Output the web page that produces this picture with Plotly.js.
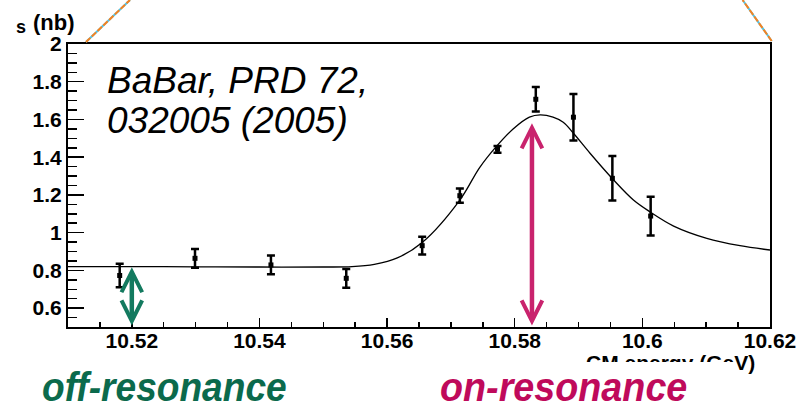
<!DOCTYPE html>
<html>
<head>
<meta charset="utf-8">
<script src="https://cdn.plot.ly/plotly-3.0.1.min.js"></script>
<style>
  html, body { margin: 0; padding: 0; background: #fff; }
  #wrap { position: relative; width: 800px; height: 412px; overflow: hidden; }
  #chart { position: absolute; left: 0; top: 0; width: 800px; height: 412px; }
  #cover { position: absolute; left: 0; top: 362px; width: 735px; height: 50px; background: #fff; z-index: 5; }
  .tag { position: absolute; z-index: 6; font-family: "Liberation Sans", Arial, sans-serif;
         font-weight: bold; font-style: italic; font-size: 41px; line-height: 1; white-space: nowrap;
         transform-origin: left top; }
  #offtag { left: 42px; top: 367px; color: #0b6a4c; transform: scaleX(0.905); }
  #ontag  { left: 440px; top: 367px; color: #bf0a5b; transform: scaleX(0.92); }
</style>
</head>
<body>
<div id="wrap">
  <div id="chart"></div>
  <div id="cover"></div>
  <div id="offtag" class="tag">off-resonance</div>
  <div id="ontag" class="tag">on-resonance</div>
</div>
<script>
// Measured cross sections vs. centre-of-mass energy
const energy = [10.5181, 10.5299, 10.5418, 10.5536, 10.5655, 10.5714, 10.5773, 10.5833, 10.5892, 10.5953, 10.6013];
const sigma  = [0.773, 0.864, 0.829, 0.758, 0.931, 1.196, 1.442, 1.707, 1.612, 1.288, 1.088];
const sigmaErr = [0.062, 0.050, 0.050, 0.050, 0.047, 0.038, 0.018, 0.065, 0.123, 0.118, 0.103];

// Fitted line shape (continuum + resonance)
const fitE = [10.510, 10.520, 10.530, 10.540, 10.550, 10.5545, 10.558, 10.5616, 10.5655, 10.5714,
              10.5745, 10.5771, 10.5797, 10.5823, 10.5840, 10.5860, 10.5876, 10.5892, 10.5918,
              10.5955, 10.5986, 10.6013, 10.6049, 10.6101, 10.6153, 10.6200];
const fitS = [0.820, 0.820, 0.819, 0.818, 0.818, 0.820, 0.832, 0.866, 0.948, 1.173,
              1.345, 1.456, 1.548, 1.612, 1.624, 1.612, 1.585, 1.527, 1.421,
              1.279, 1.173, 1.108, 1.035, 0.970, 0.931, 0.908];

// Axis tick positions and labels
const xTicks = [10.52, 10.54, 10.56, 10.58, 10.60, 10.62];
const xLabels = ['10.52', '10.54', '10.56', '10.58', '10.6', '10.62'];
const yTicks = [0.6, 0.8, 1.0, 1.2, 1.4, 1.6, 1.8, 2.0];
const yLabels = ['0.6', '0.8', '1', '1.2', '1.4', '1.6', '1.8', '2'];

// Off- and on-resonance running points, marked with double arrows
const arrowE   = [10.520, 10.5827];
const arrowTop = [0.817, 1.580];
const arrowLow = 0.5;
const arrowColors = ['#137a5f', '#c9236d'];

const FONT = 'Liberation Sans, Arial, Helvetica, sans-serif';
const bold = s => '<b>' + s + '</b>';

const traces = [
  {
    x: fitE, y: fitS, type: 'scatter', mode: 'lines',
    line: { color: '#000', width: 1.3, shape: 'spline', smoothing: 1 },
    hoverinfo: 'skip'
  },
  {
    x: energy, y: sigma, type: 'scatter', mode: 'markers',
    marker: { symbol: 'square', size: 5, color: '#000' },
    error_y: { type: 'data', array: sigmaErr, visible: true, color: '#000', thickness: 2.5, width: 4 }
  }
];

const annotations = [
  { xref: 'paper', yref: 'paper', x: 0.0527, y: 0.95, xanchor: 'left', yanchor: 'top',
    text: 'BaBar, PRD 72,', showarrow: false,
    font: { family: FONT, size: 37, style: 'italic', color: '#000' } },
  { xref: 'paper', yref: 'paper', x: 0.0527, y: 0.808, xanchor: 'left', yanchor: 'top',
    text: '032005 (2005)', showarrow: false,
    font: { family: FONT, size: 37, style: 'italic', color: '#000' } },
  { xref: 'paper', yref: 'paper', x: -0.0563, y: 1.019, xanchor: 'right', yanchor: 'bottom',
    text: bold('s'), showarrow: false,
    font: { family: FONT, size: 18, color: '#000' } },
  { xref: 'paper', yref: 'paper', x: -0.0527, y: 1.026, xanchor: 'left', yanchor: 'bottom',
    text: bold('(nb)'), showarrow: false,
    font: { family: FONT, size: 22, color: '#000' } },
  { xref: 'paper', yref: 'paper', x: 0.9815, y: -0.076, xanchor: 'right', yanchor: 'top',
    text: bold('CM energy (GeV)'), showarrow: false,
    font: { family: FONT, size: 21, color: '#000' } }
];

arrowE.forEach((e, i) => {
  annotations.push({
    x: e, y: arrowTop[i], xref: 'x', yref: 'y',
    ax: e, ay: arrowLow, axref: 'x', ayref: 'y',
    text: '', showarrow: true,
    arrowhead: 5, startarrowhead: 5, arrowside: 'end+start',
    arrowsize: 0.9, startarrowsize: 0.9, arrowwidth: 4.5,
    arrowcolor: arrowColors[i], standoff: 0, startstandoff: 0
  });
});

// Zoom guide lines leaving the upper corners of the frame
const guide = (x0, y0, x1, y1) => [
  { type: 'line', xref: 'paper', yref: 'paper', x0, y0, x1, y1, layer: 'above',
    line: { color: '#4fc4e8', width: 2 } },
  { type: 'line', xref: 'paper', yref: 'paper', x0, y0, x1, y1, layer: 'above',
    line: { color: '#f58220', width: 2, dash: '6px,2px' } }
];

const layout = {
  width: 800, height: 412,
  margin: { l: 68, r: 30, t: 44, b: 85 },
  paper_bgcolor: '#fff', plot_bgcolor: '#fff',
  showlegend: false,
  font: { family: FONT, color: '#000' },
  xaxis: {
    range: [10.51, 10.62],
    tickmode: 'array', tickvals: xTicks, ticktext: xLabels.map(bold),
    ticks: 'inside', ticklen: 9, tickwidth: 1.5, tickcolor: '#000',
    ticklabelstandoff: -6,
    minor: { tick0: 10.5, dtick: 0.005, ticks: 'inside', ticklen: 5, tickwidth: 1.5, tickcolor: '#000' },
    showline: true, linewidth: 2, linecolor: '#000', mirror: true,
    showgrid: false, zeroline: false,
    tickfont: { family: FONT, size: 21, weight: 'bold', color: '#000' }
  },
  yaxis: {
    range: [0.5, 2.0],
    tickmode: 'array', tickvals: yTicks, ticktext: yLabels.map(bold),
    ticks: 'inside', ticklen: 16, tickwidth: 1.5, tickcolor: '#000',
    minor: { tick0: 0, dtick: 0.05, ticks: 'inside', ticklen: 9, tickwidth: 1.5, tickcolor: '#000' },
    showline: true, linewidth: 2, linecolor: '#000', mirror: true,
    showgrid: false, zeroline: false,
    tickfont: { family: FONT, size: 21, weight: 'bold', color: '#000' }
  },
  annotations: annotations,
  shapes: [
    ...guide(0.0256, 1.007, 0.0883, 1.1555),
    ...guide(1.0024, 1.0106, 0.961, 1.1555)
  ]
};

Plotly.newPlot('chart', traces, layout, { displayModeBar: false, staticPlot: true });
</script>
</body>
</html>
